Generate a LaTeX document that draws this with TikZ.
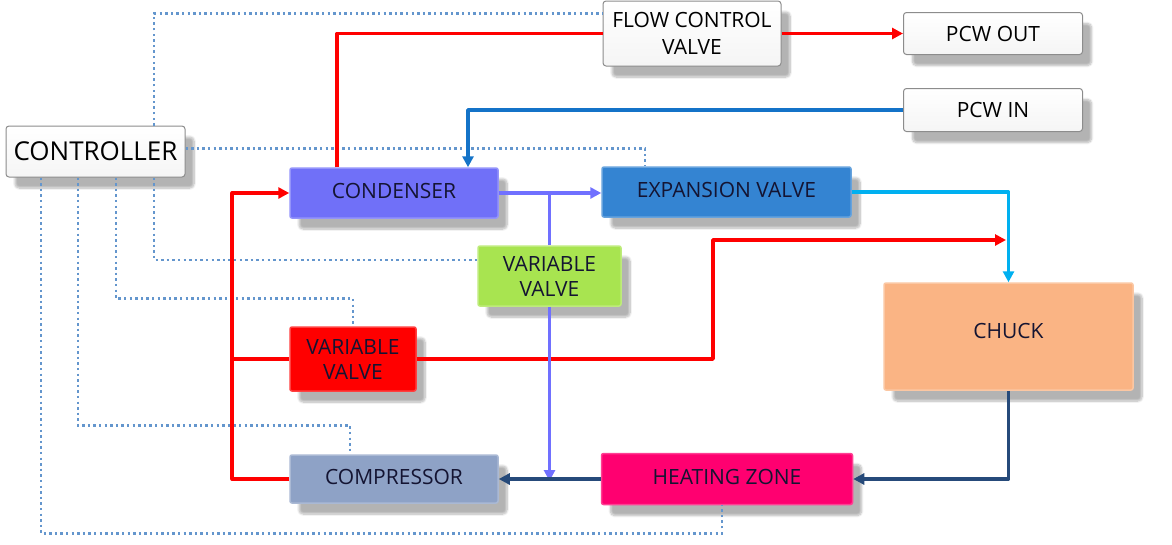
\documentclass[tikz,border=0pt]{standalone}
\usepackage{fontspec}
\setmainfont{Open Sans}
\usetikzlibrary{arrows.meta,shadows,shadows.blur,calc}
\definecolor{cCond}{RGB}{112,112,248}
\definecolor{cEV}{RGB}{52,132,210}
\definecolor{cGV}{RGB}{168,228,80}
\definecolor{cRV}{RGB}{255,0,0}
\definecolor{cChuck}{RGB}{250,180,132}
\definecolor{cComp}{RGB}{142,162,198}
\definecolor{cHeat}{RGB}{255,0,112}
\definecolor{lRed}{RGB}{255,0,0}
\definecolor{lBlue}{RGB}{20,115,200}
\definecolor{lPurp}{RGB}{112,112,255}
\definecolor{lCyan}{RGB}{0,176,240}
\definecolor{lDark}{RGB}{38,74,122}
\definecolor{lDot}{RGB}{100,150,205}
\definecolor{tDark}{RGB}{20,20,50}
\tikzset{
  box/.style={rectangle, inner sep=0pt, align=center, text=tDark,
    font=\fontsize{21}{25}\selectfont,
    blur shadow={shadow xshift=9pt, shadow yshift=-11pt, shadow opacity=30, shadow blur steps=8, shadow blur extra rounding=4pt}},
  wbox/.style={box, draw=black!45, line width=1pt, rounded corners=3pt,
    top color=white, bottom color=black!4, text=black},
  cbox/.style={box, fill=#1, draw=#1!75!white, line width=1.5pt, rounded corners=2pt},
  flow/.style={line width=3.8pt, line join=round},
  tip/.style={-{Triangle[length=11pt,width=11pt]}},
  ctl/.style={draw=lDot, line width=2.8pt, dash pattern=on 2.4pt off 3.2pt}
}
\begin{document}
\begin{tikzpicture}[x=1pt,y=-1pt]
\useasboundingbox (0,0) rectangle (1172,544);
% nodes
\node[wbox, minimum width=179pt, minimum height=51pt, font=\fontsize{26}{30}\selectfont] (ctrl) at (95.5,151.5) {CONTROLLER};
\node[wbox, minimum width=178pt, minimum height=65pt, font=\fontsize{21}{27}\selectfont] (fcv) at (692,33.5) {FLOW CONTROL\\VALVE};
\node[wbox, minimum width=179pt, minimum height=42pt] (pcwout) at (993,33.5) {PCW OUT};
\node[wbox, minimum width=179pt, minimum height=43pt] (pcwin) at (993,110) {PCW IN};
\node[cbox=cCond, minimum width=208pt, minimum height=50pt] (cond) at (394,193) {\raisebox{5pt}{CONDENSER}};
\node[cbox=cEV, minimum width=249pt, minimum height=50pt] (ev) at (726.5,192) {\raisebox{5pt}{EXPANSION VALVE}};
\node[cbox=cGV, minimum width=143pt, minimum height=60pt] (gvv) at (549.5,276) {VARIABLE\\VALVE};
\node[cbox=cChuck, minimum width=249pt, minimum height=107pt] (chuck) at (1008.5,336.5) {\raisebox{11pt}{CHUCK}};
\node[cbox=cRV, minimum width=126pt, minimum height=64pt] (rvv) at (353,359) {VARIABLE\\VALVE};
\node[cbox=cComp, minimum width=208pt, minimum height=48pt] (comp) at (394,479) {\raisebox{5pt}{COMPRESSOR}};
\node[cbox=cHeat, minimum width=251pt, minimum height=51pt] (heat) at (727,479) {\raisebox{5pt}{HEATING ZONE}};
% control lines (dotted)
\draw[ctl] ([xshift=58.5pt]ctrl.north) |- ([yshift=-13pt]fcv.north west);
\draw[ctl] ([yshift=3pt]ctrl.east) -| ([xshift=-81.5pt]ev.north);
\draw[ctl] ([xshift=58.5pt]ctrl.south) |- ([yshift=16pt]gvv.west);
\draw[ctl] ([xshift=20.5pt]ctrl.south) |- ([yshift=28pt]rvv.north) -- (rvv.north);
\draw[ctl] ([xshift=-17.5pt]ctrl.south) |- ([xshift=-44pt,yshift=29pt]comp.north) -- ([xshift=-44pt]comp.north);
\draw[ctl] ([xshift=-54.5pt]ctrl.south) |- ([xshift=-5pt,yshift=-28pt]heat.south) -- ([xshift=-5pt]heat.south);
% red refrigerant lines
\draw[flow, lRed] ([xshift=-57pt]cond.north) |- (fcv.west);
\draw[flow, lRed, tip] (fcv.east) -- (fcv.east -| pcwout.west);
\draw[flow, lRed, tip] (comp.west) -- ++(-57,0) coordinate (rl) |- (cond.west);
\coordinate (rj) at (rl |- rvv.west);
\draw[flow, lRed] (rj) -- (rvv.west);
\draw[flow, lRed, tip] (rvv.east) -- (713,359) -- (713,240) -- (1006,240);
% PCW in
\draw[flow, lBlue, tip] (pcwin.west) -| ([xshift=74pt]cond.north);
% condenser outlet
\draw[flow, lPurp, tip] (cond.east) -- (cond.east -| ev.west);
\draw[flow, lPurp] (gvv.north |- cond.east) -- (gvv.north);
\draw[flow, lPurp, tip] (gvv.south) -- ([yshift=-2pt]gvv.south |- comp.east);
% expansion valve to chuck
\draw[flow, lCyan, tip] (ev.east) -| (chuck.north);
% chuck return
\draw[flow, lDark, tip] (chuck.south) |- (heat.east);
\draw[flow, lDark, tip] (heat.west) -- (comp.east);
\end{tikzpicture}
\end{document}
